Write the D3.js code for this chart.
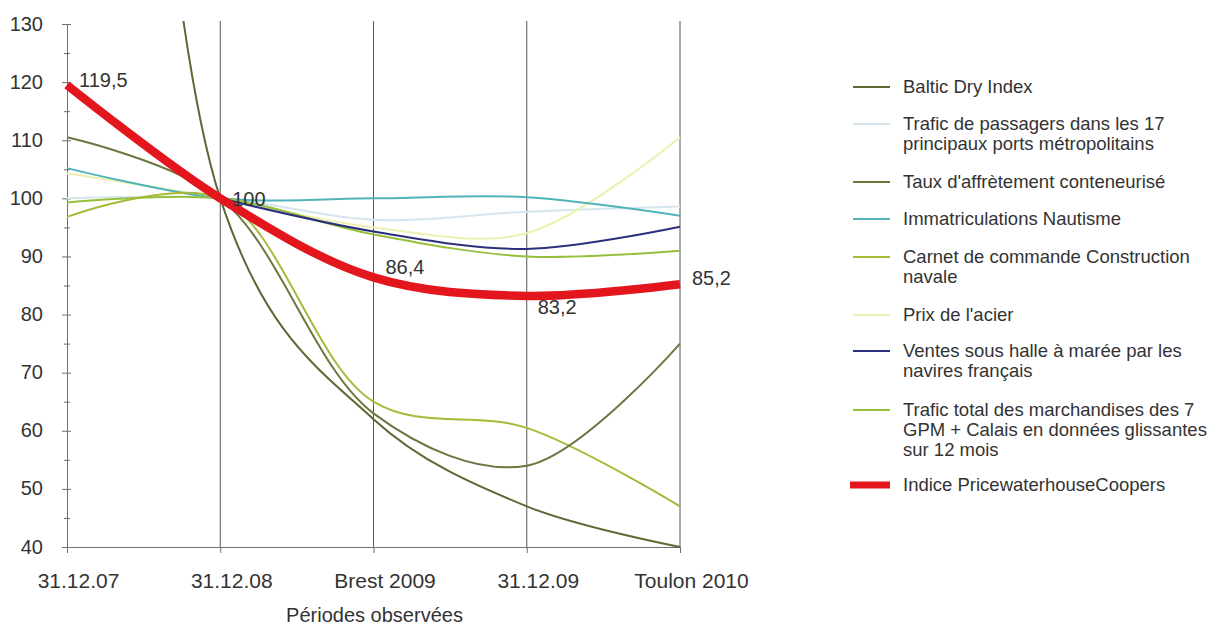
<!DOCTYPE html>
<html lang="fr">
<head>
<meta charset="utf-8">
<script src="https://cdn.jsdelivr.net/npm/d3@7"></script>
<style>
  html, body { margin: 0; padding: 0; background: #ffffff; }
  svg { display: block; font-family: "Liberation Sans", Arial, Helvetica, sans-serif; }
</style>
</head>
<body>
<svg id="chart" width="1221" height="629"></svg>
<script>
// Periods on the horizontal axis
const categories = ["31.12.07", "31.12.08", "Brest 2009", "31.12.09", "Toulon 2010"];
const yTickValues = [40, 50, 60, 70, 80, 90, 100, 110, 120, 130];
const yMinorTickValues = [45, 55, 65, 75, 85, 95, 105, 115, 125];

// Index values (base 100 at 31.12.08)
const balticDry          = [1160, 100, 62, 47, 40];
const traficPassagers    = [100, 100, 96.3, 97.7, 98.6];
const tauxAffretement    = [110.5, 100, 63, 54, 75];
const immatNautisme      = [105.2, 100, 100, 100.2, 97];
const carnetCommande     = [96.8, 100, 65, 60.5, 47];
const prixAcier          = [104.3, 100, 95, 94, 110.5];
const ventesHalle        = [null, 100, 94.3, 91.3, 95.1];
const traficMarchandises = [99.3, 100, 93.8, 90, 91];
const indicePwC          = [119.5, 100, 86.4, 83.2, 85.2];

// Series definitions, in legend order
const series = [
  { lines: ["Baltic Dry Index"], values: balticDry, color: "#5e6834", width: 2 },
  { lines: ["Trafic de passagers dans les 17", "principaux ports métropolitains"], values: traficPassagers, color: "#d6e6ec", width: 2 },
  { lines: ["Taux d'affrètement conteneurisé"], values: tauxAffretement, color: "#6e7640", width: 2 },
  { lines: ["Immatriculations Nautisme"], values: immatNautisme, color: "#4fb4b8", width: 2 },
  { lines: ["Carnet de commande Construction", "navale"], values: carnetCommande, color: "#a6ba38", width: 2 },
  { lines: ["Prix de l'acier"], values: prixAcier, color: "#eef0b0", width: 2 },
  { lines: ["Ventes sous halle à marée par les", "navires français"], values: ventesHalle, color: "#2c2f7c", width: 2 },
  { lines: ["Trafic total des marchandises des 7", "GPM + Calais en données glissantes", "sur 12 mois"], values: traficMarchandises, color: "#96c03c", width: 2 },
  { lines: ["Indice PricewaterhouseCoopers"], values: indicePwC, color: "#e3161d", width: 8.5 }
];

// Drawing order: pale lines underneath, the composite index on top
const drawOrder = [1, 5, 3, 7, 4, 2, 0, 6, 8];

const svg = d3.select("#chart");
const textColor = "#333333";
const axisColor = "#6f6f6f";

const x = d3.scalePoint().domain(categories).range([67, 680]);
const y = d3.scaleLinear().domain([40, 130]).range([547, 24]);

// Clip to the plotting area
svg.append("defs").append("clipPath").attr("id", "plot-clip")
  .append("rect").attr("x", 55).attr("y", 21).attr("width", 640).attr("height", 530);

// Vertical gridlines at each period after the first
svg.append("g").selectAll("line")
  .data(categories.slice(1))
  .join("line")
  .attr("x1", d => x(d)).attr("x2", d => x(d))
  .attr("y1", 21).attr("y2", y(40))
  .attr("stroke", "#555555").attr("stroke-width", 1);

// Left axis: major ticks with labels
const yAxis = svg.append("g")
  .attr("transform", `translate(${x(categories[0])},0)`)
  .call(d3.axisLeft(y).tickValues(yTickValues).tickSize(5).tickSizeOuter(0));
yAxis.select(".domain").attr("stroke", axisColor).attr("d", `M0.5,${y(130)}V${y(40)}`);
yAxis.selectAll(".tick line").attr("stroke", axisColor).attr("x1", -5).attr("x2", 4);
yAxis.selectAll(".tick text")
  .attr("x", -24).attr("dy", "0.3em")
  .attr("fill", textColor).style("font-size", "20px")
  .style("font-family", "'Liberation Sans', Arial, sans-serif");

// Left axis: minor ticks
const yMinor = svg.append("g")
  .attr("transform", `translate(${x(categories[0])},0)`)
  .call(d3.axisLeft(y).tickValues(yMinorTickValues).tickSize(3).tickFormat(""));
yMinor.select(".domain").remove();
yMinor.selectAll(".tick line").attr("stroke", axisColor).attr("x1", -3).attr("x2", 3);

// Bottom axis
const xAxis = svg.append("g")
  .attr("transform", `translate(0,${y(40)})`)
  .call(d3.axisBottom(x).tickSize(6).tickSizeOuter(0));
xAxis.select(".domain").attr("stroke", axisColor).attr("d", `M${x(categories[0])},0.5H${x(categories[4])}`);
xAxis.selectAll(".tick line").attr("stroke", axisColor);
xAxis.selectAll(".tick text")
  .attr("y", 41).attr("dy", 0).attr("dx", 11)
  .attr("fill", textColor).style("font-size", "21px")
  .style("font-family", "'Liberation Sans', Arial, sans-serif");

svg.append("text")
  .attr("x", x("Brest 2009") + 1).attr("y", 622)
  .attr("text-anchor", "middle")
  .attr("fill", textColor).style("font-size", "20px")
  .text("Périodes observées");

// Smoothed series lines
const line = d3.line()
  .defined(d => d.v != null)
  .x(d => x(d.c))
  .y(d => y(d.v))
  .curve(d3.curveCatmullRom.alpha(0.5));

const plot = svg.append("g").attr("clip-path", "url(#plot-clip)");
drawOrder.forEach(i => {
  const s = series[i];
  plot.append("path")
    .datum(categories.map((c, k) => ({ c, v: s.values[k] })))
    .attr("d", line)
    .attr("fill", "none")
    .attr("stroke", s.color)
    .attr("stroke-width", s.width)
    .attr("stroke-linejoin", "round")
    .attr("stroke-linecap", "butt");
});

// Value labels on the composite index
const labelOffsets = [[12, 2], [12, 8], [12, -3], [11, 18], [12, 1]];
svg.append("g").selectAll("text")
  .data(indicePwC.map((v, k) => ({ c: categories[k], v, off: labelOffsets[k] })))
  .join("text")
  .attr("x", d => x(d.c) + d.off[0])
  .attr("y", d => y(d.v) + d.off[1])
  .attr("fill", textColor).style("font-size", "20px")
  .text(d => String(d.v).replace(".", ","));

// Legend
const legendTops = [87, 124, 182, 219, 257, 315, 351, 410, 485];
const legend = svg.append("g");
series.forEach((s, i) => {
  const cy = legendTops[i];
  const isIndex = s.width > 4;
  legend.append("line")
    .attr("x1", isIndex ? 850 : 853).attr("x2", 890)
    .attr("y1", cy).attr("y2", cy)
    .attr("stroke", s.color)
    .attr("stroke-width", isIndex ? 7 : 2);
  const t = legend.append("text")
    .attr("x", 903).attr("y", cy)
    .attr("fill", textColor).style("font-size", "18.5px");
  s.lines.forEach((ln, k) => {
    t.append("tspan")
      .attr("x", 903)
      .attr("dy", k === 0 ? "0.35em" : "20px")
      .text(ln);
  });
});
</script>
</body>
</html>
